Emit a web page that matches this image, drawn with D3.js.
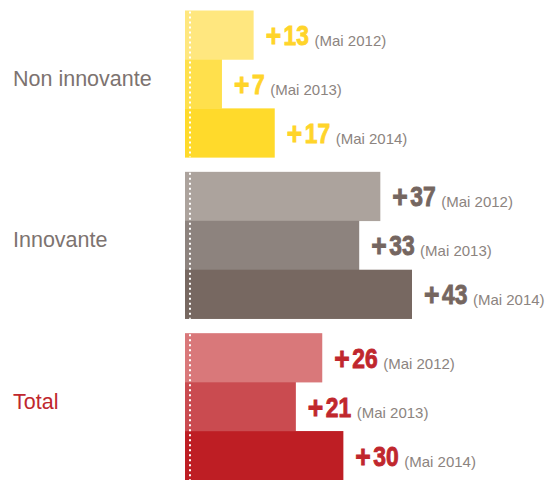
<!DOCTYPE html>
<html>
<head>
<meta charset="utf-8">
<script src="https://cdn.jsdelivr.net/npm/d3@7"></script>
<style>
  html, body { margin: 0; padding: 0; background: #ffffff; }
  svg { display: block; }
</style>
</head>
<body>
<svg id="chart" width="546" height="480"></svg>
<script>
// ---- data ----
const categories = ["Non innovante", "Innovante", "Total"];
const periods = ["Mai 2012", "Mai 2013", "Mai 2014"];
const valuesNonInnovante = [13, 7, 17];
const valuesInnovante = [37, 33, 43];
const valuesTotal = [26, 21, 30];
const seriesValues = [valuesNonInnovante, valuesInnovante, valuesTotal];

// ---- styles ----
const barColors = [
  ["#FFE77F", "#FFE04C", "#FFDA2B"],
  ["#ACA39D", "#8D837E", "#776861"],
  ["#D9787A", "#CA4B50", "#BE1E24"]
];
const valueColors = ["#FFD42A", "#756660", "#C0272D"];
const categoryColors = ["#7D7370", "#7D7370", "#C0272D"];
const periodColor = "#8C8480";
const squeeze = 0.83;

const svg = d3.select("#chart");
const x0 = 185;

const x = d3.scaleLinear().domain([0, 43]).range([0, 227]);
const y = d3.scaleBand().domain(categories).range([10.5, 480]).paddingInner(0.09);
const yInner = d3.scaleBand().domain(periods).range([0, y.bandwidth()]);

const rows = [];
categories.forEach((c, i) => {
  periods.forEach((p, j) => {
    rows.push({cat: c, ci: i, period: p, pj: j, value: seriesValues[i][j]});
  });
});

// bars
svg.selectAll("rect.bar")
  .data(rows)
  .join("rect")
  .attr("class", "bar")
  .attr("x", x0)
  .attr("y", d => y(d.cat) + yInner(d.period))
  .attr("width", d => x(d.value))
  .attr("height", yInner.bandwidth() + 0.3)
  .attr("fill", d => barColors[d.ci][d.pj]);

const groups = svg.selectAll("g.group")
  .data(categories)
  .join("g")
  .attr("class", "group")
  .attr("transform", d => `translate(0,${y(d)})`);

// dotted white line
groups.append("line")
  .attr("x1", x0 + 5).attr("x2", x0 + 5)
  .attr("y1", 1).attr("y2", y.bandwidth())
  .attr("stroke", "#ffffff")
  .attr("stroke-width", 2)
  .attr("stroke-dasharray", "2,3");

// category labels
groups.append("text")
  .attr("x", 13)
  .attr("y", y.bandwidth() / 2 + 2)
  .attr("font-family", "Liberation Sans, Arial, Helvetica, sans-serif")
  .attr("font-size", 21.5)
  .attr("fill", (d, i) => categoryColors[i])
  .text(d => d);

// value labels
const labels = svg.selectAll("g.val")
  .data(rows)
  .join("g")
  .attr("class", "val")
  .attr("transform", d => `translate(${x0 + x(d.value) + 12},${y(d.cat) + yInner(d.period) + yInner.bandwidth() / 2 + 10})`);

labels.each(function(d) {
  const g = d3.select(this);
  const num = g.append("text")
    .attr("transform", `scale(${squeeze},1)`)
    .attr("font-family", "Liberation Sans, Arial, Helvetica, sans-serif")
    .attr("font-weight", "bold")
    .attr("fill", valueColors[d.ci])
    .attr("stroke", valueColors[d.ci])
    .attr("stroke-width", 0.9);
  num.append("tspan").attr("font-size", 32).attr("dy", 1).text("+");
  num.append("tspan").attr("font-size", 27.5).attr("dx", 3).attr("dy", -1).text(d.value);
  const w = num.node().getComputedTextLength() * squeeze;
  g.append("text")
    .attr("x", w + 8)
    .attr("y", 1)
    .attr("font-family", "Liberation Sans, Arial, Helvetica, sans-serif")
    .attr("font-size", 15)
    .attr("fill", periodColor)
    .text(`(${d.period})`);
});
</script>
</body>
</html>
